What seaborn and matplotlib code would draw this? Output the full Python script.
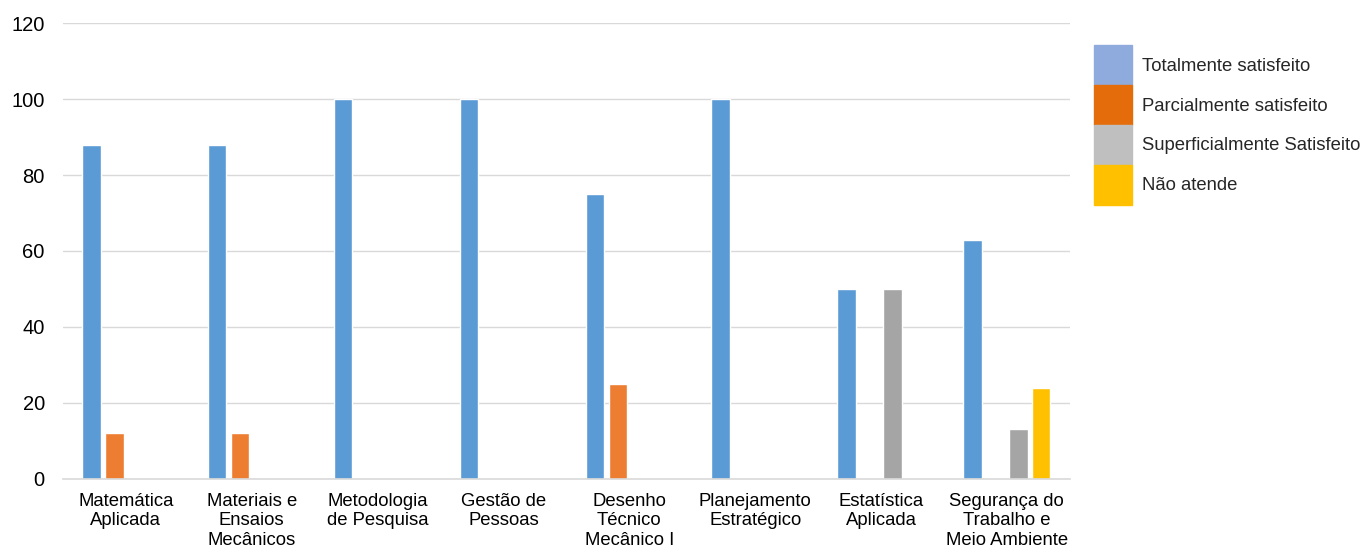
import numpy as np
import pandas as pd
import matplotlib
matplotlib.use("Agg")
import matplotlib.pyplot as plt
import matplotlib.patches as mpatches
import seaborn as sns

disciplinas = ["Matemática\nAplicada", "Materiais e\nEnsaios\nMecânicos", "Metodologia\nde Pesquisa",
               "Gestão de\nPessoas", "Desenho\nTécnico\nMecânico I", "Planejamento\nEstratégico",
               "Estatística\nAplicada", "Segurança do\nTrabalho e\nMeio Ambiente"]
niveis = ["Totalmente satisfeito", "Parcialmente satisfeito", "Superficialmente Satisfeito", "Não atende"]
totalmente = [88, 88, 100, 100, 75, 100, 50, 63]
parcialmente = [12, 12, 0, 0, 25, 0, 0, 0]
superficialmente = [0, 0, 0, 0, 0, 0, 50, 13]
nao_atende = [0, 0, 0, 0, 0, 0, 0, 24]

bar_colors = ["#5b9bd5", "#ed7d31", "#a5a5a5", "#ffc000"]
legend_colors = ["#8faadc", "#e46c0a", "#bfbfbf", "#ffc000"]

df = pd.DataFrame({
    "disciplina": disciplinas * 4,
    "nivel": np.repeat(niveis, len(disciplinas)),
    "valor": totalmente + parcialmente + superficialmente + nao_atende,
})

sns.set_style("white")
plt.rcParams["font.family"] = ["Liberation Sans", "DejaVu Sans"]

fig = plt.figure(figsize=(13.68, 5.51), dpi=100)
ax = fig.add_axes([0.046, 0.131, 0.736, 0.827])

sns.barplot(data=df, x="disciplina", y="valor", hue="nivel", hue_order=niveis,
            palette=bar_colors, width=0.73, gap=0.2, saturation=1, ax=ax, legend=False)

ax.set_ylim(0, 120)
ax.set_yticks(range(0, 121, 20))
ax.set_xlabel("")
ax.set_ylabel("")
ax.grid(axis="y", color="#d9d9d9", linewidth=1)
ax.set_axisbelow(True)
for s in ["top", "right", "left"]:
    ax.spines[s].set_visible(False)
ax.spines["bottom"].set_color("#d9d9d9")
ax.spines["bottom"].set_linewidth(1.2)
ax.tick_params(axis="both", length=0, colors="#000000")
ax.tick_params(axis="y", pad=13, labelsize=14.5)
ax.tick_params(axis="x", pad=10, labelsize=13.3)

handles = [mpatches.Patch(color=c, label=l) for c, l in zip(legend_colors, niveis)]
fig.legend(handles=handles, loc="upper left", bbox_to_anchor=(0.7995, 0.918),
           frameon=False, fontsize=13.3, handlelength=2.05, handleheight=2.95,
           labelspacing=0, handletextpad=0.55, borderpad=0, borderaxespad=0)

fig.savefig("out.png", dpi=100)
